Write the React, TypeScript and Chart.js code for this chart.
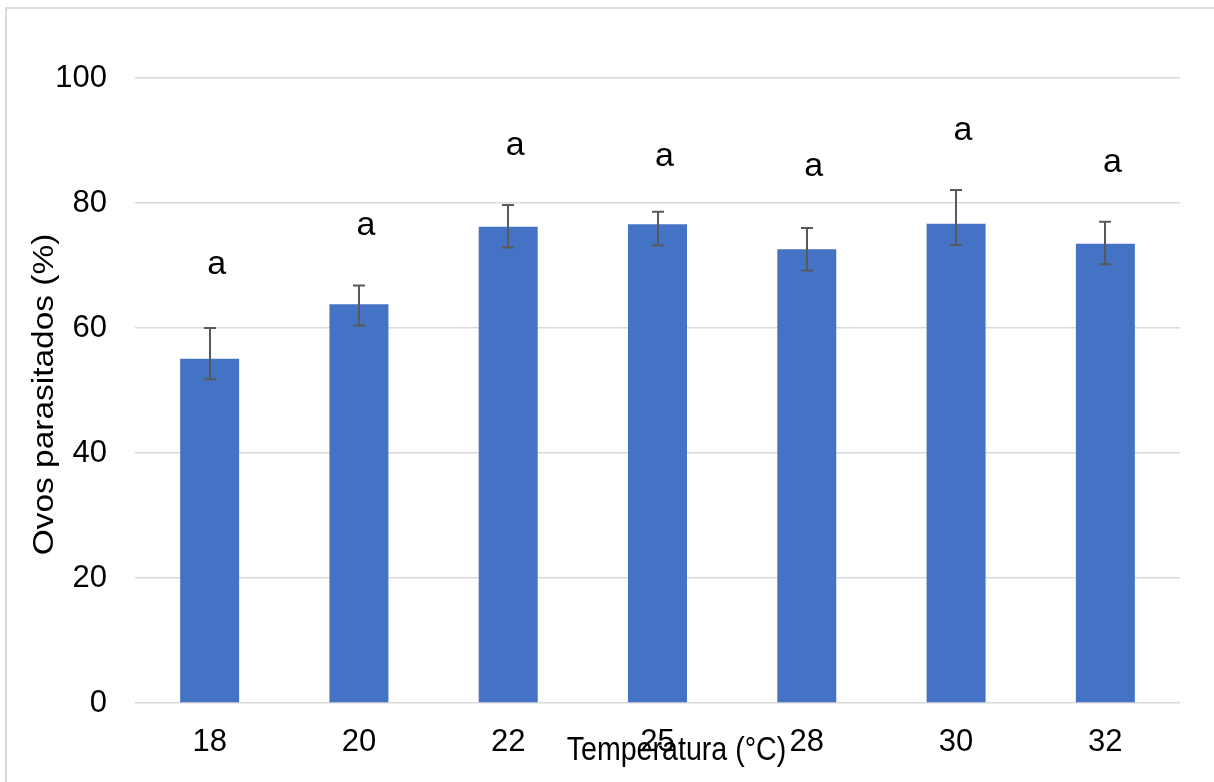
import React, { useEffect, useRef } from 'react';
import { Chart, registerables } from 'chart.js';

Chart.register(...registerables);

const categories = ['18', '20', '22', '25', '28', '30', '32'];
const means = [55.1, 63.8, 76.2, 76.6, 72.6, 76.7, 73.5];
const errorHigh = [60.0, 66.8, 79.7, 78.6, 76.0, 82.1, 77.0];
const errorLow = [51.8, 60.4, 72.9, 73.2, 69.2, 73.3, 70.2];
const letters = ['a', 'a', 'a', 'a', 'a', 'a', 'a'];
const letterPositions = [70.1, 76.3, 89.2, 87.3, 85.8, 91.5, 86.4];
const xTitle = 'Temperatura (°C)';
const yTitle = 'Ovos parasitados (%)';

const FONT = '"Liberation Sans", Arial, Helvetica, sans-serif';

const overlayPlugin = {
  id: 'overlay',
  afterDatasetsDraw(chart: any) {
    const ctx = chart.ctx;
    const y = chart.scales.y;
    const meta = chart.getDatasetMeta(0);
    const area = chart.chartArea;
    ctx.save();
    ctx.strokeStyle = '#595959';
    ctx.lineWidth = 2;
    meta.data.forEach((bar: any, i: number) => {
      const x = Math.round(bar.x);
      const yh = y.getPixelForValue(errorHigh[i]);
      const yl = y.getPixelForValue(errorLow[i]);
      ctx.beginPath();
      ctx.moveTo(x, yh);
      ctx.lineTo(x, yl);
      ctx.moveTo(x - 6, yh);
      ctx.lineTo(x + 6, yh);
      ctx.moveTo(x - 6, yl);
      ctx.lineTo(x + 6, yl);
      ctx.stroke();
    });
    ctx.fillStyle = '#000';
    ctx.font = `34px ${FONT}`;
    ctx.textAlign = 'center';
    ctx.textBaseline = 'alphabetic';
    meta.data.forEach((bar: any, i: number) => {
      ctx.fillText(letters[i], bar.x + 7, y.getPixelForValue(letterPositions[i]) + 9);
    });
    // x axis title
    ctx.save();
    ctx.font = `28.6px ${FONT}`;
    ctx.translate((area.left + area.right) / 2 + 19, area.bottom + 57);
    ctx.scale(1, 1.17);
    ctx.fillText(xTitle, 0, 0);
    ctx.restore();
    // y axis title
    ctx.save();
    ctx.font = `28.6px ${FONT}`;
    ctx.translate(53, (area.top + area.bottom) / 2 + 4);
    ctx.rotate(-Math.PI / 2);
    ctx.scale(1.17, 1);
    ctx.fillText(yTitle, 0, 0);
    ctx.restore();
    ctx.restore();
  },
};

export default function App() {
  const canvasRef = useRef<HTMLCanvasElement | null>(null);

  useEffect(() => {
    if (!canvasRef.current) return;
    const chart = new Chart(canvasRef.current, {
      type: 'bar',
      data: {
        labels: categories,
        datasets: [
          {
            data: means,
            backgroundColor: '#4472C4',
            borderWidth: 0,
            barPercentage: 0.395,
            categoryPercentage: 1,
          },
        ],
      },
      options: {
        responsive: false,
        animation: false,
        devicePixelRatio: 1,
        layout: { padding: { left: 0, right: 34, top: 78, bottom: 0 } },
        plugins: {
          legend: { display: false },
          tooltip: { enabled: false },
          title: { display: false },
        },
        scales: {
          x: {
            grid: { display: false, drawTicks: false },
            border: { display: false },
            ticks: { color: '#000', font: { size: 31, family: FONT }, padding: 21 },
            afterFit(scale: any) {
              scale.height = 79;
            },
          },
          y: {
            min: 0,
            max: 100,
            grid: { color: '#d9d9d9', lineWidth: 1.5, drawTicks: false },
            border: { display: false },
            ticks: { stepSize: 20, color: '#000', font: { size: 31, family: FONT }, padding: 28 },
            afterFit(scale: any) {
              scale.width = 135;
            },
          },
        },
      },
      plugins: [overlayPlugin],
    } as any);
    return () => chart.destroy();
  }, []);

  return (
    <div
      style={{
        position: 'absolute',
        left: 0,
        top: 0,
        width: 1214,
        height: 782,
        overflow: 'hidden',
        background: '#fff',
      }}
    >
      <div
        style={{
          position: 'absolute',
          left: 5,
          top: 7,
          width: 1300,
          height: 900,
          borderTop: '2px solid #d9d9d9',
          borderLeft: '2px solid #d9d9d9',
        }}
      />
      <canvas
        ref={canvasRef}
        width={1214}
        height={782}
        style={{ position: 'absolute', left: 0, top: 0 }}
      />
    </div>
  );
}
